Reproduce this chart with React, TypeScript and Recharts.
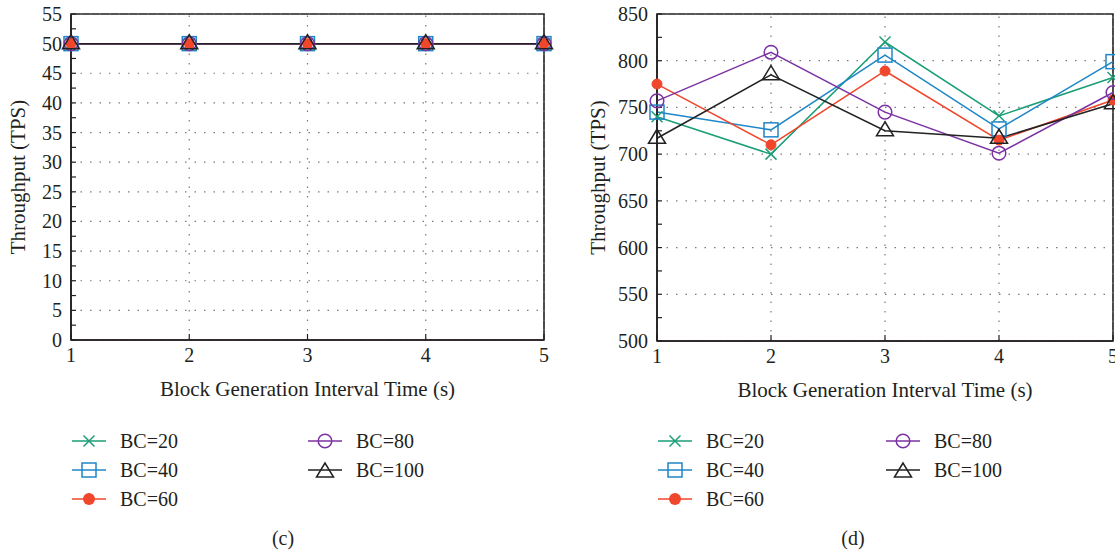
import React from 'react';
import { LineChart, Line, XAxis, YAxis, ReferenceArea, ReferenceLine } from 'recharts';

const xValues = [1, 2, 3, 4, 5];
const seriesNames = ['BC=20', 'BC=40', 'BC=60', 'BC=80', 'BC=100'];
const seriesColors = ['#1a9e77', '#1f86c7', '#f0462b', '#7b32a3', '#222222'];
const seriesMarkers = ['cross', 'square', 'dot', 'circle', 'triangle'];

// Panel (c)
const tpsC_BC20 = [50, 50, 50, 50, 50];
const tpsC_BC40 = [50, 50, 50, 50, 50];
const tpsC_BC60 = [50, 50, 50, 50, 50];
const tpsC_BC80 = [50, 50, 50, 50, 50];
const tpsC_BC100 = [50, 50, 50, 50, 50];

// Panel (d)
const tpsD_BC20 = [740, 700, 820, 741, 782];
const tpsD_BC40 = [745, 726, 806, 727, 799];
const tpsD_BC60 = [775, 710, 789, 715, 758];
const tpsD_BC80 = [757, 809, 745, 701, 766];
const tpsD_BC100 = [717, 785, 725, 717, 754];

const yTicksC = [0, 5, 10, 15, 20, 25, 30, 35, 40, 45, 50, 55];
const yMinorC = [0, 2.5, 5, 7.5, 10, 12.5, 15, 17.5, 20, 22.5, 25, 27.5, 30, 32.5, 35, 37.5, 40, 42.5, 45, 47.5, 50, 52.5, 55];
const yTicksD = [500, 550, 600, 650, 700, 750, 800, 850];
const yMinorD = [500, 525, 550, 575, 600, 625, 650, 675, 700, 725, 750, 775, 800, 825, 850];

const xLabel = 'Block Generation Interval Time (s)';
const yLabel = 'Throughput (TPS)';

const seriesC = [tpsC_BC20, tpsC_BC40, tpsC_BC60, tpsC_BC80, tpsC_BC100];
const seriesD = [tpsD_BC20, tpsD_BC40, tpsD_BC60, tpsD_BC80, tpsD_BC100];

function buildRows(series: number[][]) {
  return xValues.map((x, i) => {
    const row: any = { x };
    series.forEach((s, k) => { row['s' + k] = s[i]; });
    return row;
  });
}
const dataC = buildRows(seriesC);
const dataD = buildRows(seriesD);

const FONT = "'Liberation Serif', 'DejaVu Serif', serif";
const TEXT = '#231f20';
const FRAME = '#231f20';
const GRID = '#7a7a7a';

function Marker({ kind, cx, cy, color }: { kind: string; cx: number; cy: number; color: string }) {
  if (cx == null || cy == null) return null;
  switch (kind) {
    case 'cross':
      return (
        <g stroke={color} strokeWidth={1.5}>
          <line x1={cx - 5.5} y1={cy - 5.5} x2={cx + 5.5} y2={cy + 5.5} />
          <line x1={cx - 5.5} y1={cy + 5.5} x2={cx + 5.5} y2={cy - 5.5} />
        </g>
      );
    case 'square':
      return <rect x={cx - 7} y={cy - 7} width={14} height={14} fill="none" stroke={color} strokeWidth={1.5} />;
    case 'dot':
      return <circle cx={cx} cy={cy} r={5} fill={color} stroke={color} strokeWidth={1} />;
    case 'circle':
      return <circle cx={cx} cy={cy} r={6.8} fill="none" stroke={color} strokeWidth={1.5} />;
    case 'triangle':
      return (
        <polygon
          points={`${cx},${cy - 9} ${cx - 8.5},${cy + 5} ${cx + 8.5},${cy + 5}`}
          fill="none"
          stroke={color}
          strokeWidth={1.5}
        />
      );
    default:
      return null;
  }
}

function makeDot(k: number) {
  return (p: any) => (
    <g key={`m${k}-${p.index}`}>
      <Marker kind={seriesMarkers[k]} cx={p.cx} cy={p.cy} color={seriesColors[k]} />
    </g>
  );
}

function YTick(props: any) {
  const { x, y, payload, majors } = props;
  if (!majors.includes(payload.value)) return <g />;
  return (
    <text x={x} y={y} dy={7} textAnchor="end" fontFamily={FONT} fontSize={20} fill={TEXT}>
      {payload.value}
    </text>
  );
}

function Panel({
  data, yDomain, yTicks, yMinor, width, height, yAxisWidth, marginRight,
}: any) {
  return (
    <LineChart
      width={width}
      height={height}
      data={data}
      margin={{ top: 14, right: marginRight, bottom: 0, left: 0 }}
      style={{ fontFamily: FONT }}
    >
      <XAxis
        dataKey="x"
        type="number"
        domain={[1, 5]}
        ticks={xValues}
        height={60}
        axisLine={{ stroke: FRAME, strokeWidth: 1.6 }}
        tickLine={{ stroke: FRAME, strokeWidth: 1.2 }}
        tickSize={-6}
        tickMargin={14}
        tick={{ fontFamily: FONT, fontSize: 20, fill: TEXT }}
        label={{ value: xLabel, position: 'insideBottom', offset: 4, fontFamily: FONT, fontSize: 21, fill: TEXT }}
      />
      <XAxis
        xAxisId="top"
        orientation="top"
        dataKey="x"
        type="number"
        domain={[1, 5]}
        ticks={xValues}
        height={0}
        axisLine={false}
        tickLine={{ stroke: FRAME, strokeWidth: 1.2 }}
        tickSize={-6}
        tick={false}
      />
      <YAxis
        type="number"
        domain={yDomain}
        ticks={yMinor}
        interval={0}
        width={yAxisWidth}
        axisLine={{ stroke: FRAME, strokeWidth: 1.6 }}
        tickLine={{ stroke: FRAME, strokeWidth: 1.2 }}
        tickSize={-5}
        tickMargin={14}
        tick={<YTick majors={yTicks} />}
        label={{
          value: yLabel,
          angle: -90,
          position: 'insideLeft',
          offset: 18,
          fontFamily: FONT,
          fontSize: 21,
          fill: TEXT,
          style: { textAnchor: 'middle' },
        }}
      />
      <YAxis
        yAxisId="right"
        orientation="right"
        type="number"
        domain={yDomain}
        ticks={yMinor}
        interval={0}
        width={0}
        axisLine={false}
        tickLine={{ stroke: FRAME, strokeWidth: 1.2 }}
        tickSize={-5}
        tick={false}
      />
      {yTicks.map((v: number) => (
        <ReferenceLine key={'h' + v} y={v} stroke={GRID} strokeWidth={1.2} strokeDasharray="1.5 8" ifOverflow="visible" />
      ))}
      {xValues.map((v: number) => (
        <ReferenceLine key={'v' + v} x={v} stroke={GRID} strokeWidth={1.2} strokeDasharray="1.5 8" ifOverflow="visible" />
      ))}
      <ReferenceArea
        x1={1}
        x2={5}
        y1={yDomain[0]}
        y2={yDomain[1]}
        fill="none"
        stroke={FRAME}
        strokeWidth={1.6}
        fillOpacity={0}
        ifOverflow="visible"
      />
      {seriesNames.map((name, k) => (
        <Line
          key={name}
          name={name}
          dataKey={'s' + k}
          stroke={seriesColors[k]}
          strokeWidth={1.5}
          dot={makeDot(k)}
          activeDot={false}
          isAnimationActive={false}
        />
      ))}
    </LineChart>
  );
}

function LegendBlock({ left, top, col2Offset }: { left: number; top: number; col2Offset: number }) {
  const rows = 3;
  return (
    <div style={{ position: 'absolute', left, top }}>
      {seriesNames.map((name, k) => {
        const col = Math.floor(k / rows);
        const row = k % rows;
        const x = col * col2Offset;
        const y = row * 29;
        return (
          <div key={name} style={{ position: 'absolute', left: x, top: y, width: 160, height: 28 }}>
            <svg width={36} height={28} style={{ position: 'absolute', left: 0, top: 0, overflow: 'visible' }}>
              <line x1={0} y1={14} x2={34} y2={14} stroke={seriesColors[k]} strokeWidth={1.5} />
              {seriesMarkers[k] === 'dot' ? (
                <circle cx={17} cy={14} r={6} fill={seriesColors[k]} />
              ) : (
                <Marker kind={seriesMarkers[k]} cx={17} cy={seriesMarkers[k] === 'triangle' ? 16 : 14} color={seriesColors[k]} />
              )}
            </svg>
            <span
              style={{
                position: 'absolute',
                left: 48,
                top: 0,
                lineHeight: '28px',
                fontFamily: FONT,
                fontSize: 20,
                color: TEXT,
                whiteSpace: 'nowrap',
              }}
            >
              {name}
            </span>
          </div>
        );
      })}
    </div>
  );
}

export default function App() {
  return (
    <div
      style={{
        position: 'absolute',
        left: 0,
        top: 0,
        width: 1115,
        height: 552,
        overflow: 'hidden',
        background: '#ffffff',
        fontFamily: FONT,
      }}
    >
      <div style={{ position: 'absolute', left: 0, top: 0 }}>
        <Panel data={dataC} yDomain={[0, 55]} yTicks={yTicksC} yMinor={yMinorC} width={560} height={400} yAxisWidth={71} marginRight={16} />
      </div>
      <div style={{ position: 'absolute', left: 580, top: 0 }}>
        <Panel data={dataD} yDomain={[500, 850]} yTicks={yTicksD} yMinor={yMinorD} width={580} height={401} yAxisWidth={77} marginRight={47} />
      </div>
      <LegendBlock left={72} top={427} col2Offset={236} />
      <LegendBlock left={658} top={427} col2Offset={228} />
      <div style={{ position: 'absolute', left: 258, top: 527, width: 50, textAlign: 'center', fontFamily: FONT, fontSize: 20, color: TEXT }}>(c)</div>
      <div style={{ position: 'absolute', left: 828, top: 527, width: 50, textAlign: 'center', fontFamily: FONT, fontSize: 20, color: TEXT }}>(d)</div>
    </div>
  );
}
